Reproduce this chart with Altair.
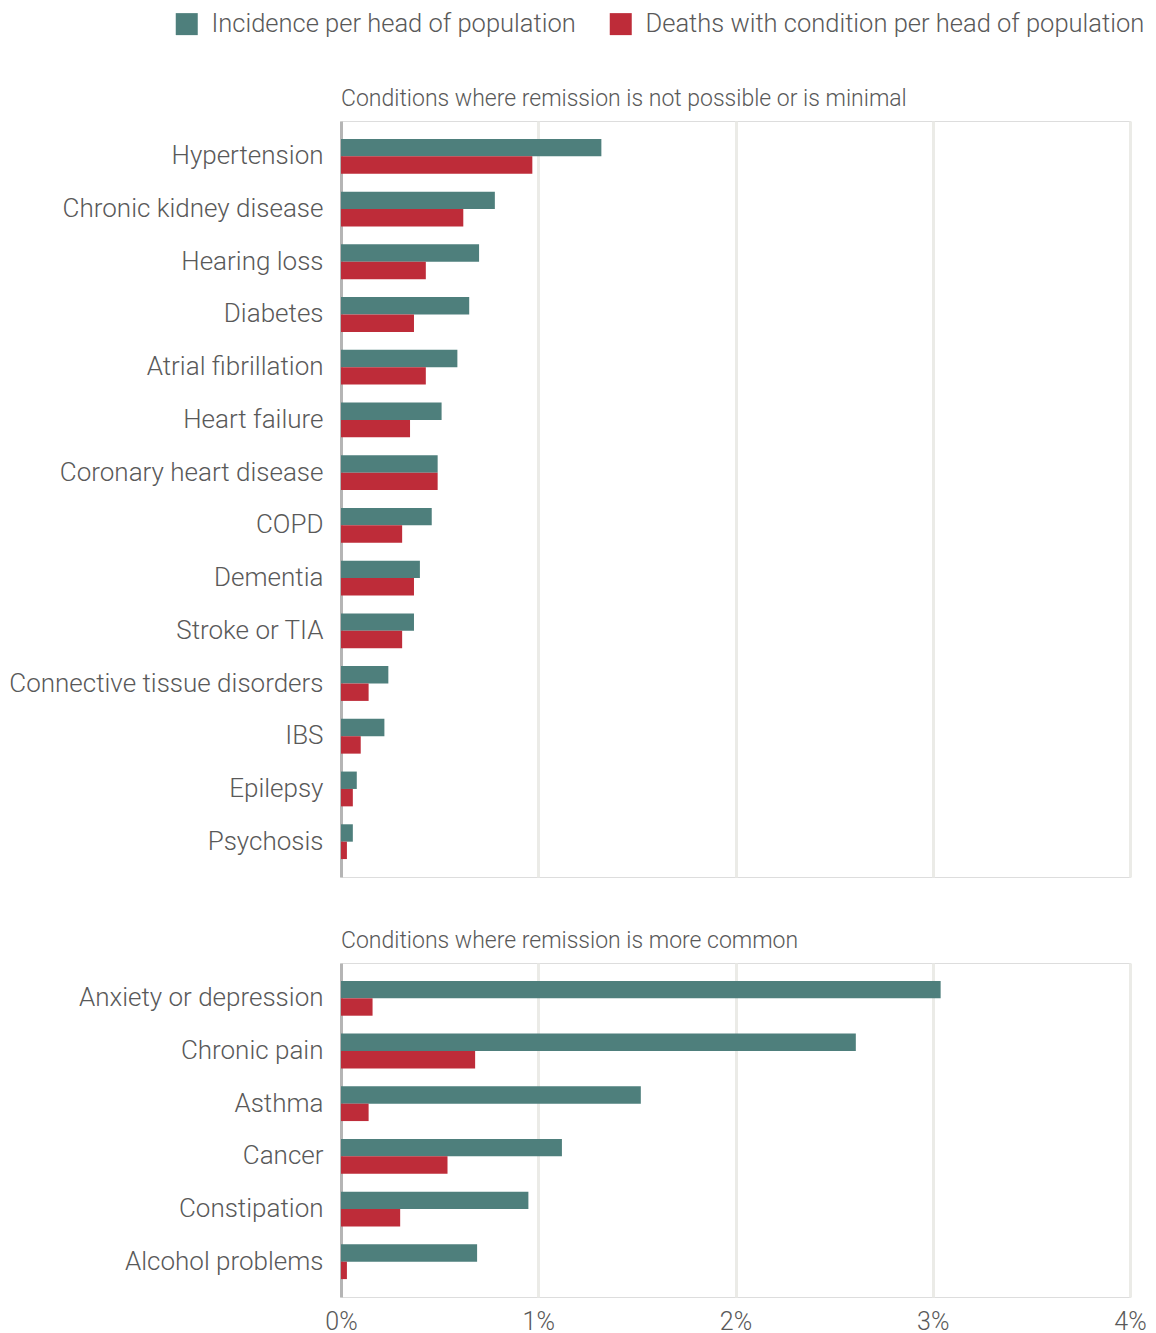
import altair as alt
import pandas as pd

measures = ["Incidence per head of population", "Deaths with condition per head of population"]
colors = ["#4E7F7C", "#BE2C39"]

top_conditions = ["Hypertension", "Chronic kidney disease", "Hearing loss", "Diabetes",
                  "Atrial fibrillation", "Heart failure", "Coronary heart disease", "COPD",
                  "Dementia", "Stroke or TIA", "Connective tissue disorders", "IBS",
                  "Epilepsy", "Psychosis"]
top_incidence = [0.0132, 0.0078, 0.0070, 0.0065, 0.0059, 0.0051, 0.0049, 0.0046,
                 0.0040, 0.0037, 0.0024, 0.0022, 0.0008, 0.0006]
top_deaths = [0.0097, 0.0062, 0.0043, 0.0037, 0.0043, 0.0035, 0.0049, 0.0031,
              0.0037, 0.0031, 0.0014, 0.0010, 0.0006, 0.0003]

bottom_conditions = ["Anxiety or depression", "Chronic pain", "Asthma", "Cancer",
                     "Constipation", "Alcohol problems"]
bottom_incidence = [0.0304, 0.0261, 0.0152, 0.0112, 0.0095, 0.0069]
bottom_deaths = [0.0016, 0.0068, 0.0014, 0.0054, 0.0030, 0.0003]

top_title = "Conditions where remission is not possible or is minimal"
bottom_title = "Conditions where remission is more common"
x_ticks = [0, 0.01, 0.02, 0.03, 0.04]

FONT = "Roboto"
TEXT = "#595959"


def make_df(conds, inc, dea):
    rows = []
    for c, a, b in zip(conds, inc, dea):
        rows.append({"condition": c, "measure": measures[0], "value": a})
        rows.append({"condition": c, "measure": measures[1], "value": b})
    return pd.DataFrame(rows)


def panel(df, conds, title, height, show_x):
    x_axis = alt.Axis(
        values=x_ticks, format="%", grid=True, gridColor="#EBEBE7", gridWidth=3,
        domain=False, ticks=False, labels=show_x, title=None, labelFlush=False,
        labelOverlap=False,
        labelFontSize=25, labelColor=TEXT, labelFont=FONT, labelFontWeight=300,
        labelPadding=12,
    )
    return alt.Chart(df, title=alt.TitleParams(
        title, anchor="start", frame="group", fontSize=23, font=FONT, fontWeight=300,
        color=TEXT, offset=10)).mark_bar().encode(
        x=alt.X("value:Q", scale=alt.Scale(domain=[0, 0.04], nice=False), axis=x_axis),
        y=alt.Y("condition:N", sort=conds,
                scale=alt.Scale(paddingInner=0.34, paddingOuter=0.34),
                axis=alt.Axis(title=None, ticks=False, domain=True, domainColor="#B5B5B5",
                              domainWidth=3, labelFontSize=26, labelColor=TEXT,
                              labelFont=FONT, labelFontWeight=300, labelPadding=18,
                              labelLimit=500, minExtent=330, maxExtent=330)),
        yOffset=alt.YOffset("measure:N", sort=measures),
        color=alt.Color("measure:N", sort=measures,
                        scale=alt.Scale(domain=measures, range=colors),
                        legend=alt.Legend(
                            title=None, orient="none", direction="horizontal",
                            legendX=-167, legendY=-110, symbolType="square",
                            symbolSize=484, symbolStrokeWidth=0, labelFontSize=25.5,
                            labelFont=FONT, labelFontWeight=300, labelColor=TEXT,
                            labelOffset=12, columnPadding=32, labelLimit=600)),
    ).properties(width=789, height=height)


top = panel(make_df(top_conditions, top_incidence, top_deaths), top_conditions,
            top_title, 756, False)
bottom = panel(make_df(bottom_conditions, bottom_incidence, bottom_deaths),
               bottom_conditions, bottom_title, 334, True)

chart = alt.vconcat(top, bottom, spacing=51).properties(
    padding={"left": 0, "top": 3, "right": 0, "bottom": 0}
).configure_view(fill="#F7F7F7", strokeWidth=0).configure(background="white")

chart.save("out.html", embed_options={"renderer": "svg", "actions": False})
